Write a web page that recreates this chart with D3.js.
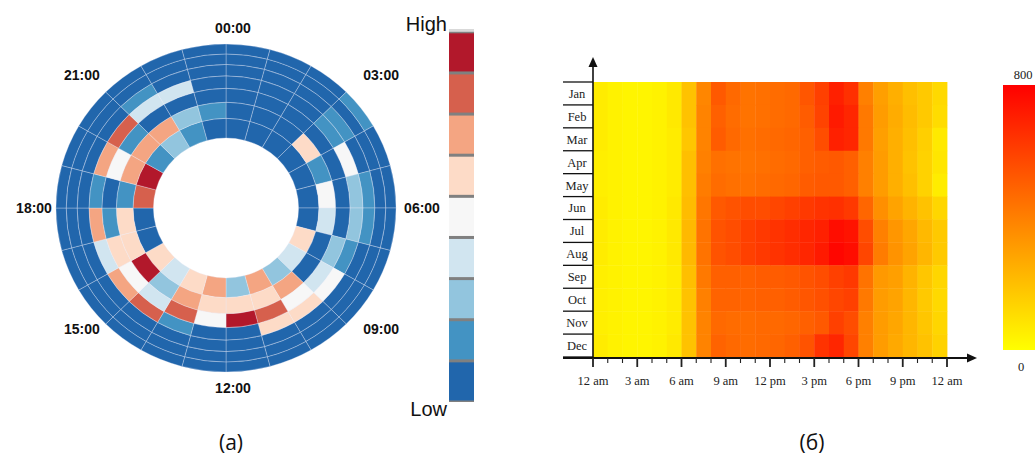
<!DOCTYPE html>
<html>
<head>
<meta charset="utf-8">
<script src="https://cdn.jsdelivr.net/npm/d3@7"></script>
<style>
  body { margin: 0; background: #fff; }
  svg { display: block; }
</style>
</head>
<body>
<script>
// ---- panel (a): level 0 (low) .. 8 (high), one row per hour sector, rings inner -> outer
const hourLevels = [
  [0, 0, 0, 0, 0, 0, 0],   // 00
  [0, 0, 0, 0, 0, 0, 0],
  [0, 0, 0, 0, 0, 0, 0],
  [0, 5, 0, 1, 1, 0, 1],   // 03
  [0, 1, 0, 4, 0, 0, 0],
  [0, 4, 0, 2, 1, 0, 0],
  [0, 3, 0, 2, 1, 0, 0],   // 06
  [5, 0, 2, 1, 0, 0, 0],
  [3, 0, 3, 4, 0, 0, 0],
  [2, 6, 4, 5, 0, 0, 0],   // 09
  [6, 5, 7, 5, 0, 0, 0],
  [2, 5, 8, 0, 0, 0, 0],
  [6, 5, 4, 0, 0, 0, 0],   // 12
  [5, 6, 7, 1, 0, 0, 0],
  [3, 2, 3, 7, 0, 0, 0],
  [5, 8, 4, 6, 0, 0, 0],   // 15
  [0, 5, 5, 3, 0, 0, 0],
  [0, 5, 1, 6, 0, 0, 0],
  [7, 1, 0, 1, 0, 0, 0],   // 18
  [8, 6, 4, 6, 0, 0, 0],
  [1, 6, 1, 7, 0, 0, 0],
  [2, 6, 0, 3, 1, 0, 0],   // 21
  [1, 2, 0, 3, 0, 0, 0],
  [0, 1, 0, 0, 0, 0, 0]
];
const clockLabels = ["00:00", "03:00", "06:00", "09:00", "12:00", "15:00", "18:00", "21:00"];
const legendEnds = ["High", "Low"];

// ---- panel (б): value per month (rows) and hour (columns)
const months = ["Jan", "Feb", "Mar", "Apr", "May", "Jun", "Jul", "Aug", "Sep", "Oct", "Nov", "Dec"];
const hourTickLabels = ["12 am", "3 am", "6 am", "9 am", "12 pm", "3 pm", "6 pm", "9 pm", "12 am"];
const monthHourValues = [
  [60, 40, 30, 30, 40, 70, 190, 380, 520, 470, 440, 450, 460, 470, 530, 600, 700, 650, 400, 300, 250, 200, 170, 120],
  [60, 40, 30, 30, 40, 70, 190, 390, 500, 460, 440, 450, 460, 470, 510, 590, 720, 680, 420, 310, 260, 210, 170, 110],
  [60, 40, 30, 30, 40, 60, 180, 390, 510, 470, 450, 460, 470, 480, 500, 560, 700, 680, 420, 300, 250, 200, 150, 70],
  [50, 40, 30, 30, 40, 60, 200, 400, 450, 440, 440, 450, 460, 470, 500, 510, 520, 500, 400, 310, 250, 190, 140, 80],
  [50, 40, 30, 30, 40, 60, 200, 410, 460, 450, 450, 460, 470, 480, 510, 520, 520, 500, 400, 310, 250, 200, 140, 60],
  [60, 40, 30, 30, 40, 70, 210, 430, 520, 540, 560, 560, 580, 600, 620, 640, 650, 620, 480, 350, 290, 240, 190, 130],
  [60, 40, 30, 30, 40, 70, 220, 440, 540, 560, 600, 620, 640, 660, 680, 700, 760, 740, 560, 400, 330, 280, 220, 170],
  [60, 40, 30, 30, 40, 70, 220, 440, 540, 560, 600, 620, 640, 660, 680, 720, 780, 760, 580, 410, 340, 290, 230, 170],
  [50, 40, 30, 30, 40, 60, 200, 420, 500, 500, 500, 510, 510, 520, 540, 560, 600, 620, 440, 320, 300, 240, 180, 130],
  [50, 40, 30, 30, 40, 60, 190, 400, 490, 490, 490, 500, 500, 510, 530, 550, 580, 600, 420, 310, 290, 230, 170, 120],
  [50, 40, 30, 30, 40, 60, 190, 390, 470, 460, 460, 470, 470, 480, 500, 520, 600, 560, 400, 310, 280, 230, 180, 130],
  [60, 40, 30, 30, 40, 70, 190, 390, 490, 470, 460, 470, 480, 500, 540, 640, 680, 580, 400, 310, 270, 230, 190, 140]
];
const valueRange = [0, 800];
const captions = ["(a)", "(б)"];

const W = 1035, H = 459;
const sans = '"Liberation Sans", Arial, sans-serif';
const serif = '"Liberation Serif", "Times New Roman", serif';

const svg = d3.select('body').append('svg')
    .attr('width', W)
    .attr('height', H);

// ================= panel (a) : radial hour heatmap =================
const ca = { x: 226, y: 208, sx: 1.037 };   // picture is a bit wider than tall

const angle = d3.scaleBand().domain(d3.range(hourLevels.length)).range([0, 2 * Math.PI]);
const ring = d3.scaleRadial().domain([0, hourLevels[0].length]).range([70, 164]);
const level = d3.scaleOrdinal()
    .domain(d3.range(9))
    .range(d3.schemeRdBu[9].slice().reverse());

const cells = hourLevels.flatMap((rings, h) => rings.map((v, r) => ({ h, r, v })));

const arc = d3.arc()
    .startAngle(d => angle(d.h))
    .endAngle(d => angle(d.h) + angle.bandwidth())
    .innerRadius(d => ring(d.r))
    .outerRadius(d => ring(d.r + 1));

const gA = svg.append('g')
    .attr('transform', `translate(${ca.x},${ca.y}) scale(${ca.sx},1)`);

gA.selectAll('path.cell')
  .data(cells)
  .join('path')
    .attr('class', 'cell')
    .attr('d', arc)
    .attr('fill', d => level(d.v))
    .attr('stroke', 'rgba(235,235,250,0.45)')
    .attr('stroke-width', 0.7)
    .attr('vector-effect', 'non-scaling-stroke');

// clock labels round the ring (they sit on a slightly squared-off loop)
const labelPos = (i) => {
  const a = i * Math.PI / 4, s = Math.sin(a), c = Math.cos(a);
  return {
    x: 228 + 5 * Math.abs(c) + 194 * Math.sign(s) * Math.pow(Math.abs(s), 0.75),
    y: 208 - 180 * c - 6 * Math.abs(Math.sin(2 * a))
  };
};

svg.append('g')
  .selectAll('text')
  .data(clockLabels)
  .join('text')
    .attr('x', (d, i) => labelPos(i).x)
    .attr('y', (d, i) => labelPos(i).y)
    .attr('dy', '0.36em')
    .attr('text-anchor', 'middle')
    .style('font', `bold 14px ${sans}`)
    .style('fill', '#111')
    .text(d => d);

// stepped legend
const leg = { x: 449, w: 25 };
const legY = d3.scaleBand().domain(d3.range(9).reverse()).range([30.8, 401]);

svg.append('rect')
    .attr('x', leg.x).attr('y', 29)
    .attr('width', leg.w).attr('height', 373)
    .attr('fill', '#808080');
svg.append('rect')
    .attr('x', leg.x).attr('y', 29)
    .attr('width', leg.w).attr('height', 2.8)
    .attr('fill', '#d9d9d9');
svg.append('g')
  .selectAll('rect')
  .data(legY.domain())
  .join('rect')
    .attr('x', leg.x)
    .attr('y', d => legY(d) + 2.5)
    .attr('width', leg.w)
    .attr('height', legY.bandwidth() - 3)
    .attr('fill', d => level(d));

svg.append('g')
  .selectAll('text')
  .data(legendEnds)
  .join('text')
    .attr('x', 447)
    .attr('y', (d, i) => i ? 416 : 31)
    .attr('text-anchor', 'end')
    .style('font', `20px ${sans}`)
    .style('fill', '#111')
    .text(d => d);

// ================= panel (б) : month x hour heatmap =================
const xH = d3.scaleLinear().domain([0, 24]).range([593, 947]);
const yM = d3.scaleBand().domain(months).range([82, 357]);
const heat = d3.scaleLinear().domain(valueRange).range(['#ffff00', '#ff0000']);

const gB = svg.append('g');

gB.selectAll('rect.hm')
  .data(monthHourValues.flatMap((row, m) => row.map((v, h) => ({ m: months[m], h, v }))))
  .join('rect')
    .attr('class', 'hm')
    .attr('x', d => xH(d.h))
    .attr('y', d => yM(d.m))
    .attr('width', xH(1) - xH(0) + 0.4)
    .attr('height', yM.bandwidth() + 0.4)
    .attr('fill', d => heat(d.v));

// little table of month names left of the axis
gB.selectAll('line.row')
  .data(months.map(m => yM(m)).concat(yM.range()[1]))
  .join('line')
    .attr('class', 'row')
    .attr('x1', 563).attr('x2', xH(0))
    .attr('y1', d => d).attr('y2', d => d)
    .attr('stroke', '#111')
    .attr('stroke-width', 1.3);

gB.selectAll('text.month')
  .data(months)
  .join('text')
    .attr('class', 'month')
    .attr('x', 577)
    .attr('y', d => yM(d) + yM.bandwidth() / 2)
    .attr('dy', '0.35em')
    .attr('text-anchor', 'middle')
    .style('font', `12.5px ${serif}`)
    .style('fill', '#222')
    .text(d => d);

// axes with arrow heads
const y0 = yM.range()[1] + 1;
gB.append('line')
    .attr('x1', xH(0)).attr('x2', xH(0))
    .attr('y1', y0).attr('y2', 64)
    .attr('stroke', '#111').attr('stroke-width', 1.6);
gB.append('path')
    .attr('d', `M${xH(0)},57 L${xH(0) - 4.5},67 L${xH(0) + 4.5},67 Z`)
    .attr('fill', '#111');

gB.append('line')
    .attr('x1', 563).attr('x2', 968)
    .attr('y1', y0).attr('y2', y0)
    .attr('stroke', '#111').attr('stroke-width', 2);
gB.append('path')
    .attr('d', `M977,${y0} L967,${y0 - 4.5} L967,${y0 + 4.5} Z`)
    .attr('fill', '#111');

gB.selectAll('line.tick')
  .data(d3.range(25))
  .join('line')
    .attr('class', 'tick')
    .attr('x1', d => xH(d)).attr('x2', d => xH(d))
    .attr('y1', y0).attr('y2', d => y0 + (d % 3 ? 5 : 9))
    .attr('stroke', '#222')
    .attr('stroke-width', d => d % 3 ? 1.1 : 1.8);

gB.selectAll('text.hour')
  .data(hourTickLabels)
  .join('text')
    .attr('class', 'hour')
    .attr('x', (d, i) => xH(i * 3))
    .attr('y', 385)
    .attr('text-anchor', 'middle')
    .style('font', `12.5px ${serif}`)
    .style('fill', '#222')
    .text(d => d);

// colour bar
const grad = svg.append('defs').append('linearGradient')
    .attr('id', 'cbar')
    .attr('x1', 0).attr('y1', 1).attr('x2', 0).attr('y2', 0);
grad.selectAll('stop')
  .data(heat.range())
  .join('stop')
    .attr('offset', (d, i) => i)
    .attr('stop-color', d => d);

const cb = d3.scaleLinear().domain(valueRange).range([350, 85]);
gB.append('rect')
    .attr('x', 1003).attr('y', cb(valueRange[1]))
    .attr('width', 45).attr('height', cb(valueRange[0]) - cb(valueRange[1]))
    .attr('fill', 'url(#cbar)');
gB.selectAll('text.cb')
  .data(valueRange)
  .join('text')
    .attr('class', 'cb')
    .attr('x', (d, i) => i ? 1023 : 1021)
    .attr('y', d => d ? cb(d) - 6 : cb(d) + 21)
    .attr('text-anchor', 'middle')
    .style('font', `12.5px ${serif}`)
    .style('fill', '#222')
    .text(d => d);

// captions under both panels
svg.selectAll('text.caption')
  .data(captions)
  .join('text')
    .attr('class', 'caption')
    .attr('x', (d, i) => i ? 812 : 231)
    .attr('y', 450)
    .attr('text-anchor', 'middle')
    .style('font', `21px "Open Sans", "Noto Sans", sans-serif`)
    .style('fill', '#111')
    .text(d => d);
</script>
</body>
</html>
